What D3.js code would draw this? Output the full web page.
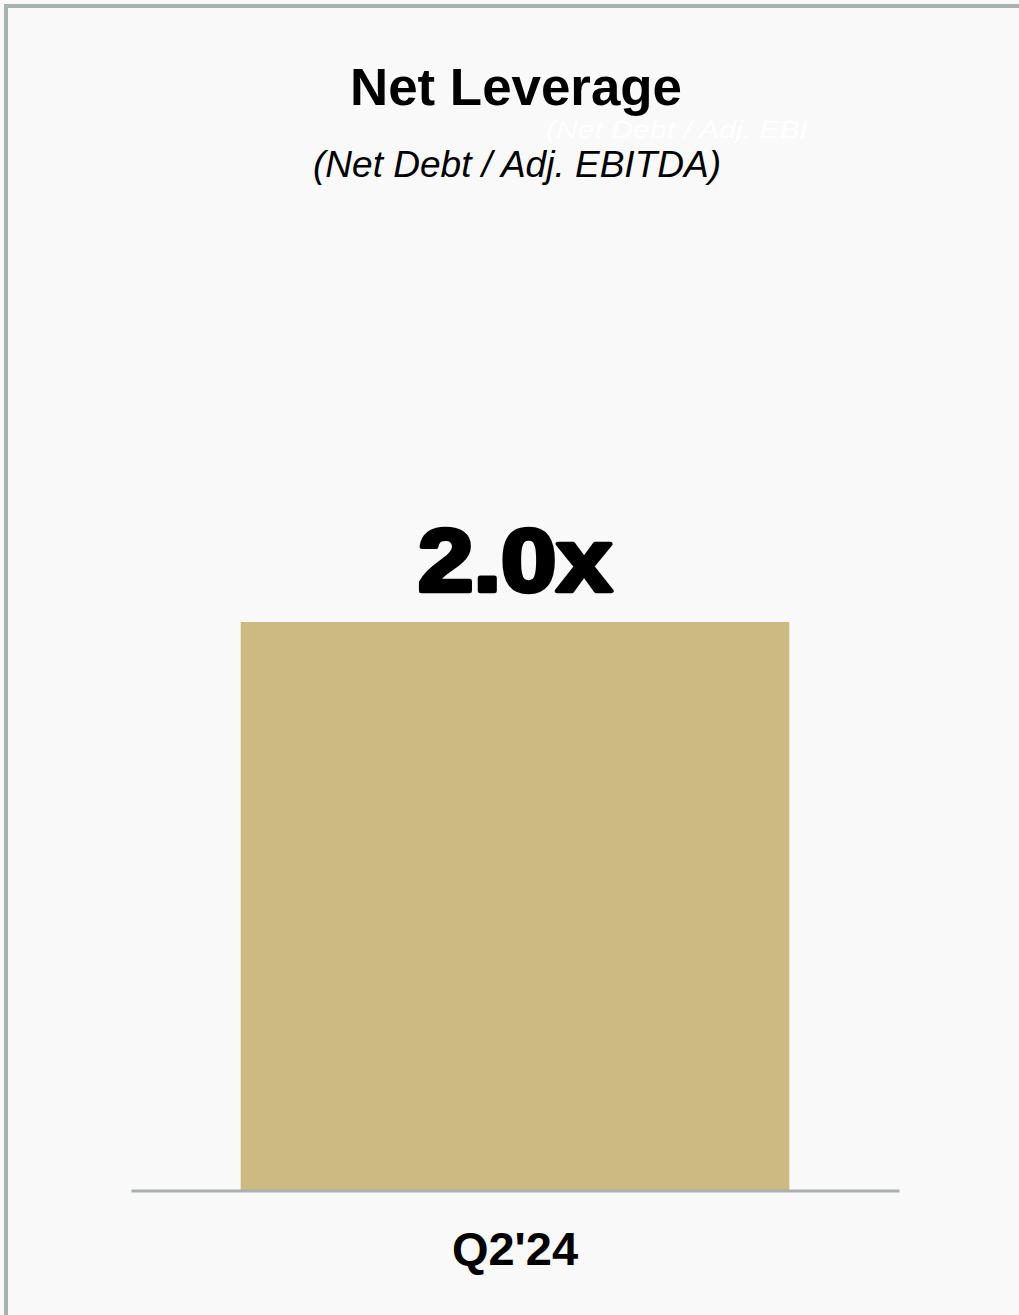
<!DOCTYPE html>
<html>
<head>
<meta charset="utf-8">
<script src="https://cdn.jsdelivr.net/npm/d3@7"></script>
<style>
  html, body { margin: 0; padding: 0; background: #f9f9f9; }
  svg { display: block; }
</style>
</head>
<body>
<svg id="chart" width="1019" height="1315"></svg>
<script>
const categories = ["Q2'24"];
const values = [2.0];
const valueLabels = ["2.0x"];
const titleText = "Net Leverage";
const subtitleText = "(Net Debt / Adj. EBITDA)";
const ghostText = "(Net Debt / Adj. EBI";

const W = 1019, H = 1315;
const svg = d3.select("#chart");

svg.append("rect").attr("x", 0).attr("y", 0).attr("width", W).attr("height", H).attr("fill", "#f9f9f9");
// frame (top and left visible)
svg.append("rect").attr("x", 6).attr("y", 6).attr("width", W + 20).attr("height", H + 20)
  .attr("fill", "none").attr("stroke", "#aab2af").attr("stroke-width", 4);

const x = d3.scaleBand().domain(categories).range([131, 899]).paddingInner(0).paddingOuter(0.2);
const y = d3.scaleLinear().domain([0, 2.5]).range([1190, 480]);

// title
svg.append("text").attr("x", 516).attr("y", 105).attr("text-anchor", "middle")
  .attr("font-family", "Liberation Sans, Arial, sans-serif").attr("font-weight", "bold")
  .attr("font-size", 51).attr("fill", "#000")
  .attr("textLength", 332).attr("lengthAdjust", "spacingAndGlyphs").text(titleText);

// ghost text (near invisible)
svg.append("text").attr("x", 546).attr("y", 138)
  .attr("font-family", "Liberation Sans, Arial, sans-serif").attr("font-style", "italic")
  .attr("font-size", 24).attr("fill", "#ffffff")
  .attr("textLength", 262).attr("lengthAdjust", "spacingAndGlyphs").text(ghostText);

svg.append("text").attr("x", 517).attr("y", 177).attr("text-anchor", "middle")
  .attr("font-family", "Liberation Sans, Arial, sans-serif").attr("font-style", "italic")
  .attr("font-size", 36).attr("fill", "#000")
  .attr("textLength", 408).attr("lengthAdjust", "spacingAndGlyphs").text(subtitleText);

// bars
svg.selectAll("rect.bar").data(values).enter().append("rect").attr("class", "bar")
  .attr("x", (d, i) => x(categories[i]))
  .attr("y", d => y(d))
  .attr("width", x.bandwidth())
  .attr("height", d => y(0) - y(d))
  .attr("fill", "#cdb982");

// value labels
svg.selectAll("text.val").data(values).enter().append("text").attr("class", "val")
  .attr("x", (d, i) => x(categories[i]) + x.bandwidth() / 2)
  .attr("y", d => y(d) - 31)
  .attr("text-anchor", "middle")
  .attr("font-family", "Liberation Sans, Arial, sans-serif").attr("font-weight", "bold")
  .attr("font-size", 89).attr("fill", "#000").attr("stroke", "#000").attr("stroke-width", 4.5)
  .attr("stroke-linejoin", "round")
  .attr("textLength", 194).attr("lengthAdjust", "spacingAndGlyphs")
  .text((d, i) => valueLabels[i]);

// x axis
const axis = svg.append("g").attr("transform", `translate(0,${y(0) + 0.5})`)
  .call(d3.axisBottom(x).tickSize(0).tickPadding(0).tickSizeOuter(0));
axis.select(".domain").attr("stroke", "#a9b1ae").attr("stroke-width", 3);
axis.selectAll(".tick text").attr("dy", 0).attr("y", 74)
  .attr("font-family", "Liberation Sans, Arial, sans-serif").attr("font-weight", "bold")
  .attr("font-size", 47).attr("fill", "#000");
</script>
</body>
</html>
